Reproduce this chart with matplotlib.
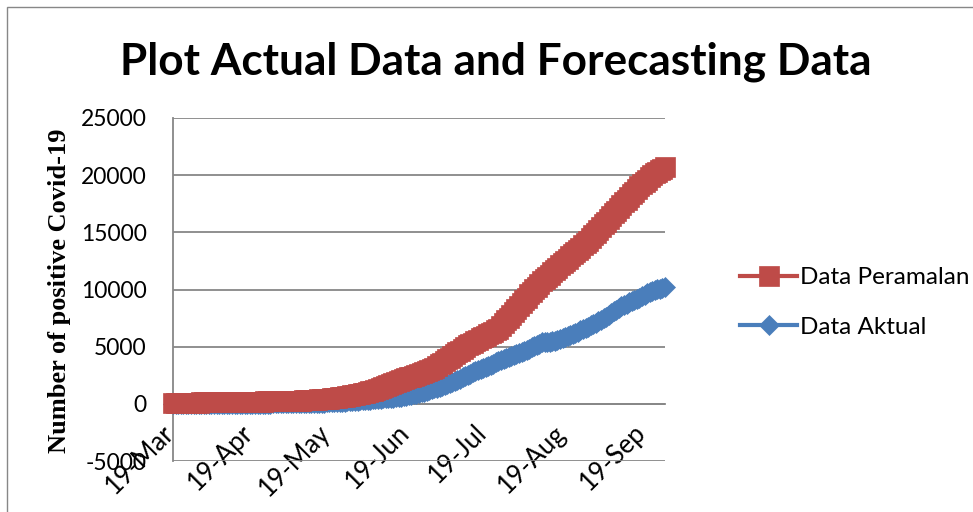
import datetime as dt
import matplotlib
matplotlib.use("Agg")
import matplotlib.pyplot as plt
import matplotlib.transforms as mtransforms
from matplotlib.patches import Rectangle

plt.rcParams['font.family'] = ['Lato', 'DejaVu Sans']
plt.rcParams['axes.unicode_minus'] = False

# daily cumulative positive cases, starting 19 March 2020
start_date = dt.date(2020, 3, 19)

data_peramalan = [
    90, 92, 95, 97, 100, 103, 105, 108, 110, 113, 116, 120,
    123, 127, 130, 134, 137, 140, 144, 147, 150, 153, 157, 160,
    163, 167, 170, 174, 178, 182, 185, 189, 192, 196, 200,
    204, 208, 212, 216, 220, 224, 228, 232, 236, 240, 245, 250,
    258, 266, 276, 286, 296, 306, 318, 330,
    346, 362, 380, 398, 418, 438, 458, 480,
    505, 532, 560, 590, 620, 650,
    692, 736, 780, 825, 870,
    925, 985, 1045, 1105, 1165, 1225, 1290, 1350,
    1430, 1520, 1610, 1710, 1810, 1910, 2010, 2100,
    2170, 2240, 2310, 2380, 2450, 2520, 2600, 2670,
    2760, 2850, 2950, 3050, 3150,
    3300, 3450, 3600, 3750, 3900, 4050, 4200,
    4350, 4500, 4660, 4810, 4960, 5110,
    5230, 5350, 5480, 5600, 5720,
    5840, 5960, 6080, 6200, 6320, 6440, 6560,
    6800, 7050, 7300, 7540, 7780,
    8030, 8280, 8530, 8780,
    9040, 9300, 9570,
    9800, 10020, 10250, 10470, 10700,
    10900, 11100, 11300, 11500, 11700,
    11900, 12100, 12300, 12500, 12700, 12900,
    13090, 13280, 13480, 13670, 13860, 14060, 14250,
    14490, 14730, 14970, 15210, 15450, 15690, 15930, 16170,
    16410, 16660, 16900, 17150, 17390,
    17620, 17850, 18080, 18320, 18550, 18780, 19010,
    19210, 19410, 19610, 19810, 20010,
    20150, 20290, 20430, 20560, 20700,
]

data_aktual = [
    5, 5, 6, 6, 7, 7, 8, 8, 9, 9, 10, 10,
    10, 11, 11, 12, 12, 13, 13, 14, 14, 15, 15, 15,
    16, 17, 18, 19, 20, 21, 22, 23, 24, 24, 25,
    26, 27, 28, 29, 30, 31, 33, 34, 36, 37, 39, 40,
    44, 48, 52, 56, 61, 66, 71, 76, 82, 88, 94, 100,
    110, 120, 130, 141, 152, 164, 177, 190, 204, 219, 234, 250,
    267, 284, 301, 318, 336, 354, 372, 391, 410, 430, 450,
    470, 490, 510, 530, 550, 570, 590, 610,
    655, 700, 745, 795, 845, 895, 945, 1000,
    1070, 1140, 1210, 1280, 1350,
    1425, 1500, 1575, 1650, 1730, 1805, 1880,
    1990, 2100, 2210, 2320, 2430, 2540, 2650, 2765, 2880,
    2960, 3040, 3120, 3200, 3280,
    3390, 3500, 3620, 3730, 3850,
    3930, 4010, 4090, 4170, 4250, 4335, 4415, 4500,
    4610, 4720, 4830, 4940, 5050, 5160, 5260, 5370,
    5400, 5425, 5450, 5475, 5500,
    5590, 5680, 5770, 5860, 5945, 6030, 6120,
    6220, 6320, 6420, 6525, 6630, 6730,
    6855, 6980, 7100, 7225, 7350, 7475, 7600,
    7760, 7920, 8080, 8240, 8400, 8560,
    8660, 8760, 8870, 8970, 9080, 9180,
    9300, 9420, 9545, 9665, 9790,
    9860, 9940, 10010, 10085, 10160, 10230,
]

dates = [start_date + dt.timedelta(days=i) for i in range(len(data_aktual))]

tick_dates = [dt.date(2020, m, 19) for m in range(3, 10)]
tick_labels = ['19-Mar', '19-Apr', '19-May', '19-Jun', '19-Jul', '19-Aug', '19-Sep']
y_ticks = [-5000, 0, 5000, 10000, 15000, 20000, 25000]

red = '#BE4B48'
blue = '#4A7EBB'
grey = '#878787'

fig = plt.figure(figsize=(9.73, 5.12), dpi=100)
W, H = 973, 512
ax = fig.add_axes([173 / W, 1 - 461 / H, (665 - 173) / W, (461 - 118) / H])

ax.plot(dates, data_aktual, color=blue, lw=3, marker='D', ms=10.5,
        mec=blue, mew=0.5, clip_on=False, zorder=3, label='Data Aktual')
ax.plot(dates, data_peramalan, color=red, lw=3, marker='s', ms=14,
        mec=red, mew=0.5, clip_on=False, zorder=4, label='Data Peramalan')

ax.set_xlim(dates[0], dates[-1])
ax.set_ylim(-5000, 25000)
ax.set_yticks(y_ticks)
ax.set_xticks(tick_dates)
ax.set_xticklabels(tick_labels)

ax.grid(axis='y', color=grey, lw=1.3)
ax.set_axisbelow(True)
for s in ['top', 'right']:
    ax.spines[s].set_visible(False)
ax.spines['left'].set_color(grey)
ax.spines['left'].set_linewidth(1.3)
ax.spines['bottom'].set_position(('data', 0))
ax.spines['bottom'].set_color(grey)
ax.spines['bottom'].set_linewidth(1.3)

ax.tick_params(axis='y', length=0, pad=19, labelsize=16.5)
ax.tick_params(axis='x', length=0, pad=18, labelsize=18.5)
shift = mtransforms.ScaledTranslation(-3 / 100, 0, fig.dpi_scale_trans)
for lbl in ax.get_xticklabels():
    lbl.set_rotation(45)
    lbl.set_ha('right')
    lbl.set_va('center')
    lbl.set_rotation_mode('anchor')
    lbl.set_transform(lbl.get_transform() + shift)

fig.text(496 / W, 1 - 75 / H, 'Plot Actual Data and Forecasting Data',
         ha='center', va='baseline', fontsize=31.8, fontweight='bold')
fig.text(60 / W, 1 - 291 / H, 'Number of positive Covid-19', rotation=90,
         ha='center', va='center', fontsize=19, fontweight='bold',
         family='Liberation Serif')

handles, labels = ax.get_legend_handles_labels()
ax.legend(handles[::-1], labels[::-1], loc='center left',
          bbox_to_anchor=(740 / W, 1 - 302.5 / H), bbox_transform=fig.transFigure,
          frameon=False, fontsize=17.5, numpoints=1, handlelength=2.35,
          handletextpad=0.12, labelspacing=1.18, borderpad=0, borderaxespad=0)

# chart area border
fig.add_artist(Rectangle((7 / W, -0.05), 1.0, 1 - 7 / H + 0.05,
                         transform=fig.transFigure, fill=False,
                         ec=grey, lw=1.0))

fig.savefig('out.png', dpi=100)
